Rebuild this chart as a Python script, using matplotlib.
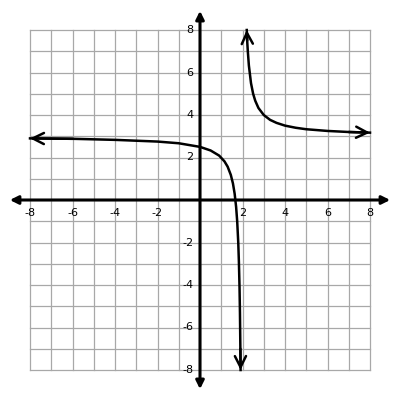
import matplotlib
matplotlib.use("Agg")
import matplotlib.pyplot as plt

# values
left_x = [-8, -6, -4, -2, -1, 0, 0.5, 0.9, 1.15, 1.3, 1.45, 1.55, 1.63, 1.7,
          1.75, 1.8, 1.83, 1.86, 1.88, 1.9, 1.91]
left_y = [2.9, 2.88, 2.83, 2.75, 2.67, 2.5, 2.33, 2.09, 1.82, 1.57, 1.18, 0.78,
          0.3, -0.33, -1.0, -2.0, -2.9, -4.1, -5.3, -7.0, -8.0]
right_x = [2.2, 2.22, 2.25, 2.3, 2.4, 2.5, 2.6, 2.75, 3.0, 3.3, 3.6, 4.0, 4.5,
           5, 6, 7, 8]
right_y = [8.0, 7.5, 7.0, 6.33, 5.5, 5.0, 4.67, 4.33, 4.0, 3.77, 3.63, 3.5,
           3.4, 3.33, 3.25, 3.2, 3.17]
tick_values = [-8, -6, -4, -2, 2, 4, 6, 8]


def main():
    fig = plt.figure(figsize=(4, 4), dpi=100)
    ax = fig.add_axes([0, 0, 1, 1])
    lim = 200 / 21.25
    ax.set_xlim(-lim, lim)
    ax.set_ylim(-lim, lim)
    ax.axis("off")

    # grid
    for k in range(-8, 9):
        ax.plot([k, k], [-8, 8], color="#a8a8a8", lw=0.9, zorder=1)
        ax.plot([-8, 8], [k, k], color="#a8a8a8", lw=0.9, zorder=1)

    # axes with filled arrow heads
    axis_style = dict(arrowstyle="<|-|>", lw=2.2, color="black",
                      mutation_scale=12, shrinkA=0, shrinkB=0)
    ax.annotate("", xy=(8.95, 0), xytext=(-8.95, 0), arrowprops=axis_style,
                zorder=3)
    ax.annotate("", xy=(0, 8.9), xytext=(0, -8.9), arrowprops=axis_style,
                zorder=3)

    # tick labels
    for v in tick_values:
        ax.text(v, -0.62, str(v), ha="center", va="center", fontsize=8,
                family="DejaVu Sans", zorder=4)
        ax.text(-0.3, v, str(v), ha="right", va="center", fontsize=8,
                family="DejaVu Sans", zorder=4)

    # curve
    ax.plot(left_x, left_y, color="black", lw=1.8, zorder=5)
    ax.plot(right_x, right_y, color="black", lw=1.8, zorder=5)

    head = dict(arrowstyle="->", lw=1.8, color="black", mutation_scale=20,
                shrinkA=0, shrinkB=0)
    ends = [
        ((left_x[0], left_y[0]), (left_x[1], left_y[1])),
        ((left_x[-1], left_y[-1]), (left_x[-2], left_y[-2])),
        ((right_x[0], right_y[0]), (right_x[1], right_y[1])),
        ((right_x[-1], right_y[-1]), (right_x[-2], right_y[-2])),
    ]
    for tip, prev in ends:
        ax.annotate("", xy=tip, xytext=prev, arrowprops=head, zorder=6)

    fig.savefig("out.png", dpi=100, facecolor="white")


if __name__ == "__main__":
    main()
